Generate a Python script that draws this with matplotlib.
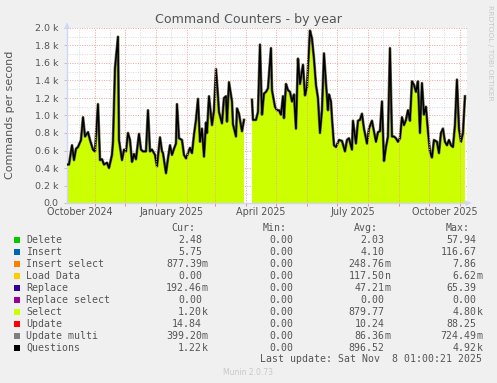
import numpy as np
import pandas as pd
import matplotlib
matplotlib.use("Agg")
import matplotlib.pyplot as plt
from matplotlib.patches import Rectangle

W, H = 497, 383

# munin "by year" window: 400 days ending at the last update
start = pd.Timestamp("2024-10-04")
end = pd.Timestamp("2025-11-08 01:00")

# day offsets from start, and commands per second (in thousands)
days = [0, 2, 5, 7, 9, 11, 14, 16, 18, 21, 23, 26, 28, 31, 33, 35, 37, 40, 42, 45,
        46, 48, 51, 52, 55, 57, 59, 61, 63, 65, 67, 69, 72, 74, 76, 79, 81, 83, 85, 88,
        90, 93, 95, 96, 99, 101, 103, 105, 107, 109, 110, 112, 115, 117, 119, 121, 123, 125, 127, 129,
        131, 133, 135, 137, 139, 140, 142, 145, 147, 149, 151, 152, 155, 157, 159, 160, 162, 165, 166, 169,
        170, 172, 174, 175, 177, 181, 185, 186, 189, 191, 193, 195, 197, 199, 201, 204, 205, 208, 210, 212,
        214, 216, 217, 219, 221, 223, 225, 227, 229, 231, 233, 236, 238, 240, 243, 245, 247, 249, 251, 253,
        255, 257, 259, 261, 262, 264, 265, 267, 269, 272, 275, 278, 280, 282, 285, 286, 289, 291, 293, 295,
        297, 300, 302, 305, 307, 309, 311, 313, 315, 317, 319, 321, 323, 325, 327, 329, 331, 333, 335, 337,
        339, 341, 343, 345, 347, 349, 351, 353, 355, 357, 359, 361, 363, 365, 367, 370, 372, 374, 376, 378,
        380, 382, 384, 386, 388, 390, 392, 394, 396, 398]
questions_k = [0.44, 0.44, 0.66, 0.49, 0.62, 0.64, 0.72, 0.98, 0.76, 0.81, 0.72, 0.61, 0.59, 1.13, 0.49, 0.50, 0.44, 0.46, 0.40, 0.55,
               0.70, 1.54, 1.90, 0.72, 0.49, 0.61, 0.59, 0.80, 0.72, 0.47, 0.56, 0.50, 0.79, 0.61, 0.59, 0.59, 1.06, 0.59, 0.61, 0.55,
               0.42, 0.75, 0.59, 0.57, 0.34, 0.51, 0.66, 0.55, 0.62, 0.68, 1.13, 0.74, 0.72, 0.55, 0.51, 0.57, 0.63, 0.57, 0.78, 0.95,
               1.19, 0.70, 0.85, 0.53, 0.92, 0.80, 1.22, 0.89, 1.06, 1.53, 1.22, 1.04, 0.91, 1.20, 1.22, 0.93, 1.38, 1.16, 0.90, 0.76,
               1.08, 1.02, 0.89, 0.82, 0.95, np.nan, 1.18, 0.95, 0.95, 1.04, 1.81, 1.01, 1.25, 1.27, 1.31, 1.77, 1.29, 1.10, 1.06, 1.06,
               1.01, 1.22, 0.97, 1.36, 1.29, 1.27, 1.16, 1.24, 0.85, 1.65, 1.36, 1.58, 1.23, 1.33, 1.97, 1.88, 1.65, 1.35, 1.20, 0.80,
               1.06, 1.71, 1.37, 1.06, 1.24, 1.16, 0.97, 0.66, 0.64, 0.72, 0.71, 0.59, 0.72, 0.74, 0.61, 0.94, 0.68, 0.94, 0.95, 1.02,
               0.85, 0.68, 0.85, 0.94, 0.82, 0.70, 0.81, 0.82, 1.16, 0.48, 0.64, 0.76, 1.77, 0.76, 0.76, 0.74, 0.70, 0.74, 0.98, 0.89,
               0.95, 1.06, 0.94, 1.39, 1.35, 1.27, 1.39, 0.80, 1.37, 1.01, 1.10, 0.82, 0.59, 0.52, 0.72, 0.70, 0.57, 0.80, 0.85, 0.70,
               0.66, 0.72, 0.66, 0.64, 0.89, 1.41, 0.85, 0.70, 0.80, 1.22]

y_ticks = [0.0, 0.2, 0.4, 0.6, 0.8, 1.0, 1.2, 1.4, 1.6, 1.8, 2.0]
y_labels = ["0.0", "0.2 k", "0.4 k", "0.6 k", "0.8 k", "1.0 k", "1.2 k", "1.4 k", "1.6 k", "1.8 k", "2.0 k"]
x_labels = ["October 2024", "January 2025", "April 2025", "July 2025", "October 2025"]
x_label_months = ["2024-10", "2025-01", "2025-04", "2025-07", "2025-10"]

# legend table
names = ["Delete", "Insert", "Insert select", "Load Data", "Replace", "Replace select",
         "Select", "Update", "Update multi", "Questions"]
colors = ["#00CC00", "#0066B3", "#FF8000", "#FFCC00", "#330099", "#990099",
          "#CCFF00", "#FF0000", "#808080", "#000000"]
cur = ["2.48", "5.75", "877.39m", "0.00", "192.46m", "0.00", "1.20k", "14.84", "399.20m", "1.22k"]
mins = ["0.00", "0.00", "0.00", "0.00", "0.00", "0.00", "0.00", "0.00", "0.00", "0.00"]
avg = ["2.03", "4.10", "248.76m", "117.50n", "47.21m", "0.00", "879.77", "10.24", "86.36m", "896.52"]
maxs = ["57.94", "116.67", "7.86", "6.62m", "65.39", "0.00", "4.80k", "88.25", "724.49m", "4.92k"]

FONT = "#555555"
AXIS = "#CFD6F8"


def fx(x):
    return x / W


def fy(y):
    return 1 - y / H


fig = plt.figure(figsize=(W / 100, H / 100), dpi=100, facecolor="#F0F0F0")
ax = fig.add_axes([fx(67), fy(203), 400 / W, 175 / H])
ax.set_facecolor("white")

dates = start + pd.to_timedelta(days, unit="D")
vals = np.array(questions_k, dtype=float)

# Select area (the other counters are too small to show) and Questions line
ax.fill_between(dates, 0, vals, color="#CCFF00", linewidth=0, zorder=2)
ax.plot(dates, vals, color="#6E6E50", linewidth=2.0, zorder=3)
ax.plot(dates, vals, color="black", linewidth=1.1, zorder=3)

ax.set_xlim(start, end)
ax.set_ylim(0, 2.0)

# grid: gray minor, red major
for v in np.arange(0.1, 2.0, 0.2):
    ax.axhline(v, color="#D8D8D8", linewidth=0.7, linestyle=(0, (1, 1.5)), zorder=1)
for v in y_ticks[1:]:
    ax.axhline(v, color="#F0A0A0", linewidth=0.7, linestyle=(0, (1, 1.5)), zorder=1)
month_starts = pd.date_range("2024-11-01", "2025-11-01", freq="MS")
mid_months = pd.date_range("2024-10-01", "2025-11-01", freq="MS") + pd.Timedelta(days=15)
for d in mid_months:
    if start < d < end:
        ax.axvline(d, color="#D8D8D8", linewidth=0.7, linestyle=(0, (1, 1.5)), zorder=1)
for d in month_starts:
    ax.axvline(d, color="#F0A0A0", linewidth=0.7, linestyle=(0, (1, 1.5)), zorder=4)

for s in ["top", "right"]:
    ax.spines[s].set_visible(False)
for s in ["left", "bottom"]:
    ax.spines[s].set_color(AXIS)
    ax.spines[s].set_linewidth(1.0)

ax.set_xticks(month_starts)
ax.set_xticklabels([])
ax.tick_params(axis="x", length=2.5, color="#F08080", width=0.7)
ax.set_yticks(y_ticks)
ax.set_yticklabels(y_labels, fontsize=6.8, color=FONT)
ax.tick_params(axis="y", length=2, color="#C0C0C0", width=0.7, pad=4)

# month labels sit in the middle of their month
for lab, m in zip(x_labels, x_label_months):
    d0 = pd.Timestamp(m + "-01")
    mid = d0 + (d0 + pd.offsets.MonthBegin(1) - d0) / 2
    ax.text(mid, -0.025, lab, transform=ax.get_xaxis_transform(), ha="center", va="top",
            fontsize=6.9, color=FONT)

# axis arrows
ax.annotate("", xy=(fx(474), fy(203)), xytext=(fx(466), fy(203)), xycoords="figure fraction",
            arrowprops=dict(arrowstyle="-|>", color=AXIS, lw=1, mutation_scale=7))
ax.annotate("", xy=(fx(67), fy(20)), xytext=(fx(67), fy(28)), xycoords="figure fraction",
            arrowprops=dict(arrowstyle="-|>", color=AXIS, lw=1, mutation_scale=7))

fig.text(fx(249), fy(19), "Command Counters - by year", ha="center", va="center",
         fontsize=9.1, color=FONT)
fig.text(fx(10), fy(115), "Commands per second", ha="center", va="center",
         rotation=90, fontsize=8.0, color=FONT)
fig.text(fx(490), fy(5), "RRDTOOL / TOBI OETIKER", ha="center", va="top",
         rotation=270, fontsize=5.4, color="#C8C8C8")

# legend table
mono = "DejaVu Sans Mono"
fs = 7.1
cw = 6.0
col_right = [208, 299.5, 390.5, 482.5]
headers = ["Cur:", "Min:", "Avg:", "Max:"]
head_right = [195, 287, 378, 470]
for h, xr in zip(headers, head_right):
    fig.text(fx(xr), fy(228), h, ha="right", va="center", family=mono, fontsize=fs, color=FONT)

for i, name in enumerate(names):
    yc = 239.7 + 12.0 * i
    fig.add_artist(Rectangle((fx(14), fy(yc + 3)), 6 / W, 6 / H, transform=fig.transFigure,
                             facecolor=colors[i], edgecolor="none"))
    fig.text(fx(26), fy(yc), name, ha="left", va="center", family=mono, fontsize=fs, color=FONT)
    for col, xr in zip([cur, mins, avg, maxs], col_right):
        s = col[i]
        if s[-1].isalpha():
            num, unit = s[:-1], s[-1]
        else:
            num, unit = s, ""
        fig.text(fx(xr - cw), fy(yc), num, ha="right", va="center", family=mono,
                 fontsize=fs, color=FONT)
        if unit:
            fig.text(fx(xr - cw), fy(yc), unit, ha="left", va="center", family=mono,
                     fontsize=fs, color=FONT)

fig.text(fx(482), fy(359.5), "Last update: Sat Nov  8 01:00:21 2025", ha="right", va="center",
         family=mono, fontsize=fs, color=FONT)
fig.text(fx(248), fy(372.3), "Munin 2.0.73", ha="center", va="center", fontsize=5.5, color="#C8C8C8")

fig.savefig("out.png", dpi=100, facecolor=fig.get_facecolor())
